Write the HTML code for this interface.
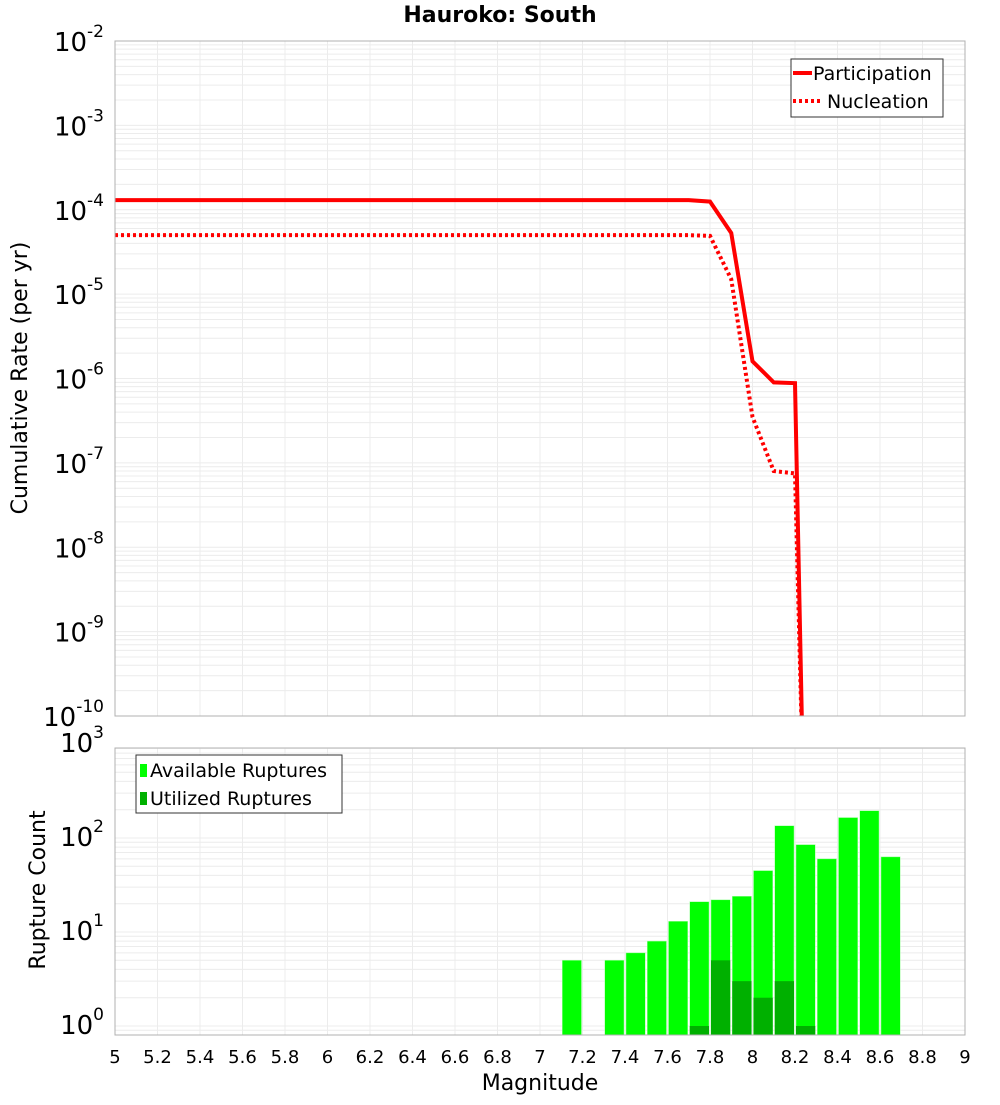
<!DOCTYPE html>
<html><head><meta charset="utf-8"><style>
body{margin:0;background:#fff;font-family:"Liberation Sans","DejaVu Sans",sans-serif}
svg text{font-family:"DejaVu Sans","Liberation Sans",sans-serif}
</style></head><body>
<svg id="c" width="1000" height="1100" xmlns="http://www.w3.org/2000/svg">
<rect width="1000" height="1100" fill="#fff"/>
<text x="500" y="22" text-anchor="middle" font-size="22" font-weight="bold">Hauroko: South</text>
<g id="topPanel"></g>
<g id="botPanel"></g>
<text transform="translate(27,378) rotate(-90)" text-anchor="middle" font-size="22">Cumulative Rate (per yr)</text>
<text transform="translate(45,890) rotate(-90)" text-anchor="middle" font-size="22">Rupture Count</text>
<text x="540" y="1090" text-anchor="middle" font-size="22">Magnitude</text>
</svg>
<script>
const partMags=[5.0,7.7,7.8,7.9,8.0,8.1,8.2,8.24];
const partRates=[1.3e-4,1.3e-4,1.25e-4,5.3e-5,1.6e-6,9e-7,8.8e-7,1e-11];
const nuclMags=[5.0,7.7,7.8,7.9,8.0,8.1,8.2,8.24];
const nuclRates=[5e-5,5e-5,4.9e-5,1.5e-5,3.5e-7,8e-8,7.5e-8,1e-11];
const binCenters=[7.15,7.35,7.45,7.55,7.65,7.75,7.85,7.95,8.05,8.15,8.25,8.35,8.45,8.55,8.65];
const availCounts=[5,5,6,8,13,21,22,24,45,135,85,60,165,195,63];
const utilCounts=[0,0,0,0,0,1,5,3,2,3,1,0,0,0,0];
const xTicks=[5,5.2,5.4,5.6,5.8,6,6.2,6.4,6.6,6.8,7,7.2,7.4,7.6,7.8,8,8.2,8.4,8.6,8.8,9];
const topExps=[-10,-9,-8,-7,-6,-5,-4,-3,-2];
const botExps=[0,1,2,3];

const NS="http://www.w3.org/2000/svg";
const L=115,R=965;
const X=m=>L+(m-5)/4*(R-L);
const T0=41,T1=716;
const YT=v=>T1-(Math.log10(v)+10)/8*(T1-T0);
const B0=748,B1=1035;
const YB=v=>1026-94*Math.log10(v);
function el(p,t,a){const e=document.createElementNS(NS,t);for(const k in a)e.setAttribute(k,a[k]);p.appendChild(e);return e;}
const topG=document.getElementById('topPanel'),botG=document.getElementById('botPanel');

for(let e=-10;e<-2;e++)for(let k=1;k<10;k++){const y=YT(k*Math.pow(10,e));if(y<T0||y>T1)continue;
const g=el(topG,'line',{x1:L,x2:R,y1:y,y2:y,stroke:'#ececec','stroke-width':1});

}
xTicks.forEach(t=>{const g=el(topG,'line',{x1:X(t),x2:X(t),y1:T0,y2:T1,stroke:'#ececec'});


const g2=el(botG,'line',{x1:X(t),x2:X(t),y1:B0,y2:B1,stroke:'#ececec'});

});
for(let e=-1;e<3;e++)for(let k=1;k<10;k++){const y=YB(k*Math.pow(10,e));if(y<B0||y>B1)continue;
const g=el(botG,'line',{x1:L,x2:R,y1:y,y2:y,stroke:'#ececec'});

}

topExps.forEach(e=>{const y=YT(Math.pow(10,e));
const t=el(topG,'text',{x:104,y:y+10,'text-anchor':'end','font-size':26});


t.innerHTML='10<tspan dy="-14" font-size="17">'+e+'</tspan>';});
botExps.forEach(e=>{const y=YB(Math.pow(10,e));
const t=el(botG,'text',{x:104,y:y+8,'text-anchor':'end','font-size':26});


t.innerHTML='10<tspan dy="-14" font-size="17">'+e+'</tspan>';});
xTicks.forEach(t=>{const s=el(botG,'text',{x:X(t),y:1063,'text-anchor':'middle','font-size':18});


s.textContent=String(t);});

const defs=el(document.getElementById('c'),'defs',{});
const cp=el(defs,'clipPath',{id:'tc'});el(cp,'rect',{x:L,y:T0,width:R-L,height:T1-T0});

function line(ms,vs,dash,name){const pts=ms.map((m,i)=>X(m)+','+YT(vs[i])).join(' ');
const p=el(topG,'polyline',{points:pts,fill:'none',stroke:'#ff0000','stroke-width':4,'clip-path':'url(#tc)'});
if(dash)p.setAttribute('stroke-dasharray','3,3');

}
line(nuclMags,nuclRates,true,'nucleation-line');
line(partMags,partRates,false,'participation-line');
el(topG,'rect',{x:L,y:T0,width:R-L,height:T1-T0,fill:'none',stroke:'#b0b0b0'});

const w=X(5.1)-X(5);
binCenters.forEach((c,i)=>{const v=availCounts[i];if(v<=0)return;
const r=el(botG,'rect',{x:X(c)-w/2+1,y:YB(v),width:w-2,height:B1-YB(v),fill:'#00ff00',stroke:'#aaffaa','stroke-width':0.5});


const u=utilCounts[i];if(u>0){const r2=el(botG,'rect',{x:X(c)-w/2+1,y:YB(u),width:w-2,height:B1-YB(u),fill:'#00b000'});

}});
el(botG,'rect',{x:L,y:B0,width:R-L,height:B1-B0,fill:'none',stroke:'#b0b0b0'});

const lg=el(topG,'g',{});


el(lg,'rect',{x:791,y:59,width:152,height:58,fill:'#fff',stroke:'#333'});
el(lg,'line',{x1:793,x2:812,y1:73,y2:73,stroke:'#f00','stroke-width':4});
el(lg,'line',{x1:793,x2:822,y1:101,y2:101,stroke:'#f00','stroke-width':4,'stroke-dasharray':'3,3'});
let tx=el(lg,'text',{x:813,y:80,'font-size':19});tx.textContent='Participation';
tx=el(lg,'text',{x:827,y:108,'font-size':19});tx.textContent='Nucleation';
const lg2=el(botG,'g',{});


el(lg2,'rect',{x:136,y:755,width:206,height:58,fill:'#fff',stroke:'#333'});
el(lg2,'rect',{x:140,y:764,width:7,height:13,fill:'#00ff00'});
el(lg2,'rect',{x:140,y:792,width:7,height:13,fill:'#00b000'});
tx=el(lg2,'text',{x:150,y:777,'font-size':19});tx.textContent='Available Ruptures';
tx=el(lg2,'text',{x:150,y:805,'font-size':19});tx.textContent='Utilized Ruptures';
</script>
</body></html>
